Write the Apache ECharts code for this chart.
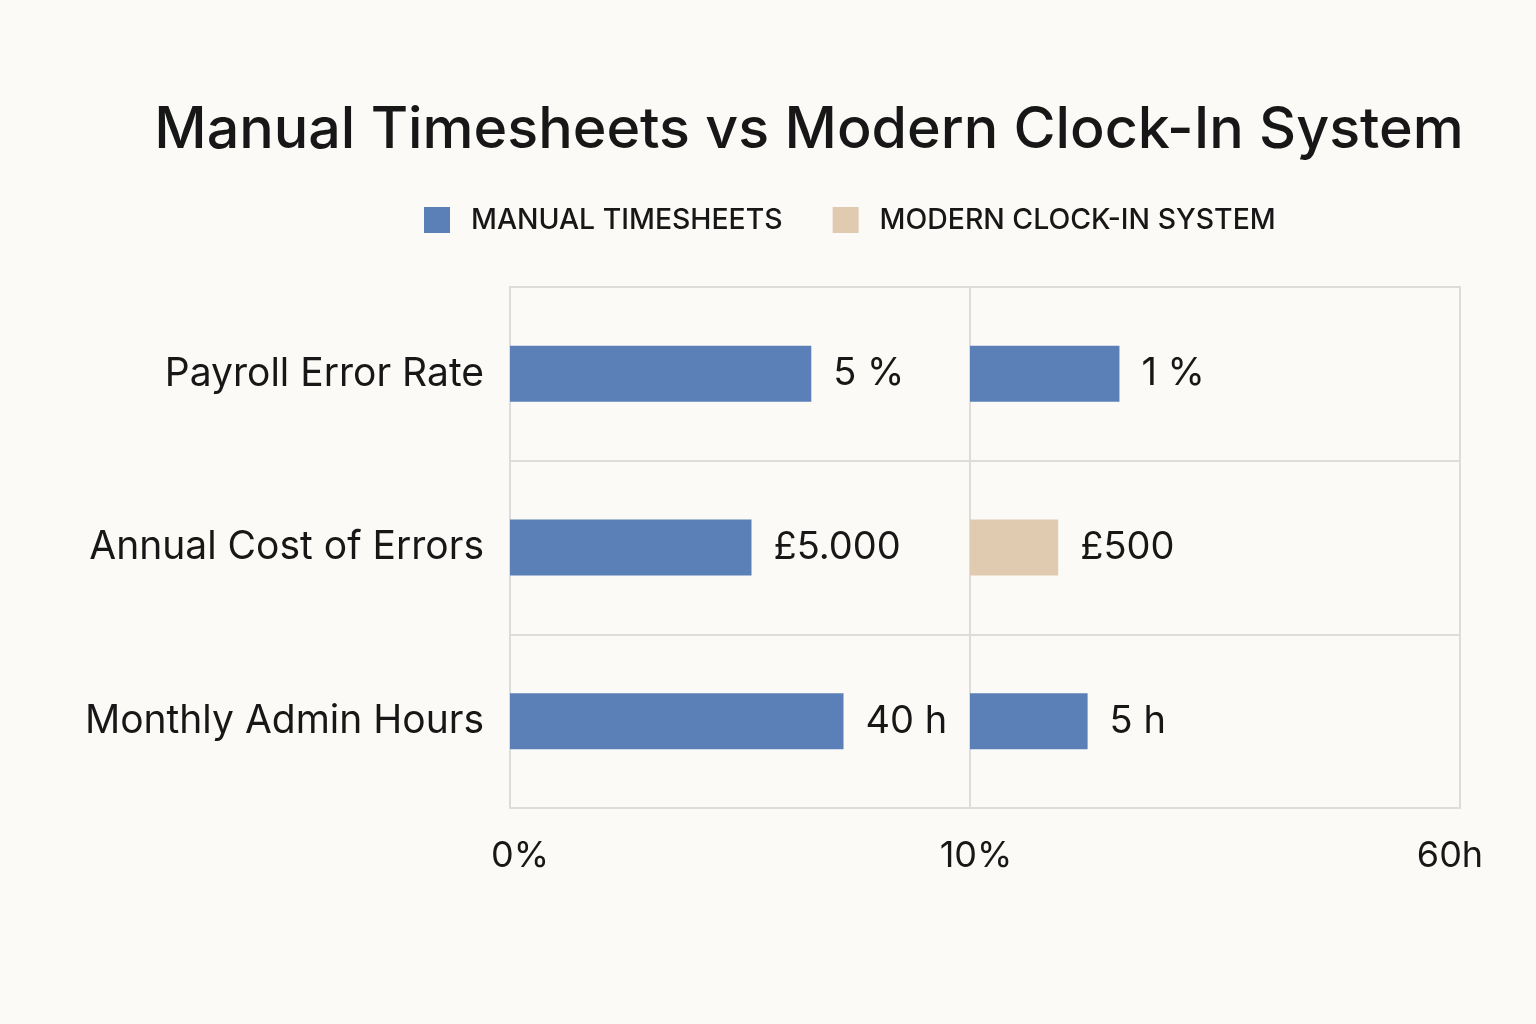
<!DOCTYPE html>
<html>
<head>
<meta charset="utf-8">
<title>Manual Timesheets vs Modern Clock-In System</title>
<script src="https://cdn.jsdelivr.net/npm/echarts@6/dist/echarts.min.js"></script>
<style>
    html, body { margin: 0; padding: 0; background: #fbfaf6; }
    #chart { width: 1536px; height: 1024px; }
</style>
</head>
<body>
<div id="chart"></div>
<script>
// 数据
const categories = ['Payroll Error Rate', 'Annual Cost of Errors', 'Monthly Admin Hours'];
// bar length as share of each panel (0-100)
const manualBars = [65.5, 52.5, 72.5];
const modernBars = [30.5, 18, 24];
const manualLabels = ['5 %', '£5.000', '40 h'];
const modernLabels = ['1 %', '£500', '5 h'];
// which modern bars use the legend's beige colour
const modernBeige = [false, true, false];
const tickLeft = ['0%'];
const tickRight = ['10%', '60h'];

const BLUE = '#5b7fb7';
const BEIGE = '#e0cbb1';
const GRID = '#dcdcda';
const TEXT = '#171717';
const FONT = 'Inter, "Noto Sans", sans-serif';

const chart = echarts.init(document.getElementById('chart'));

const yBase = {
    type: 'category',
    data: categories,
    inverse: true,
    axisLine: { show: false },
    axisTick: { show: false },
    splitLine: { show: true, lineStyle: { color: GRID, width: 2 } }
};

const xBase = {
    type: 'value',
    min: 0,
    max: 100,
    interval: 100,
    axisLine: { show: false },
    axisTick: { show: false },
    splitLine: { show: false }
};

const valueLabel = (labels) => ({
    show: true,
    position: 'right',
    distance: 22,
    color: TEXT,
    fontFamily: FONT,
    fontSize: 38,
    formatter: p => labels[p.dataIndex]
});

chart.setOption({
    backgroundColor: '#fbfaf6',
    textStyle: { fontFamily: FONT },
    title: {
        text: 'Manual Timesheets vs Modern Clock-In System',
        left: 804,
        top: 97,
        textAlign: 'center',
        textStyle: { fontSize: 57.4, fontWeight: 500, color: TEXT, fontFamily: FONT }
    },
    legend: {
        top: 201,
        left: 419,
        itemWidth: 26,
        itemHeight: 26,
        itemGap: 50,
        icon: 'rect',
        textStyle: { fontSize: 28.4, fontWeight: 500, color: TEXT, fontFamily: FONT, padding: [0, 0, 0, 16] },
        data: [
            { name: 'MANUAL TIMESHEETS', itemStyle: { color: BLUE } },
            { name: 'MODERN CLOCK-IN SYSTEM', itemStyle: { color: BEIGE } }
        ]
    },
    grid: [
        { left: 510, width: 460, top: 287, bottom: 216, show: true, borderColor: GRID, borderWidth: 2 },
        { left: 970, right: 76, top: 287, bottom: 216, show: true, borderColor: GRID, borderWidth: 2 }
    ],
    xAxis: [
        {
            ...xBase, gridIndex: 0,
            axisLabel: {
                fontSize: 36, color: TEXT, margin: 30, padding: [0, 0, 0, 20],
                formatter: v => v === 0 ? tickLeft[0] : ''
            }
        },
        {
            ...xBase, gridIndex: 1,
            axisLabel: {
                color: TEXT, margin: 30,
                formatter: v => v === 0 ? '{a|' + tickRight[0] + '}' : '{b|' + tickRight[1] + '}',
                rich: {
                    a: { fontSize: 36, color: TEXT, fontFamily: FONT, padding: [0, 0, 0, 12] },
                    b: { fontSize: 36, color: TEXT, fontFamily: FONT, padding: [0, 20, 0, 0] }
                }
            }
        }
    ],
    yAxis: [
        {
            ...yBase, gridIndex: 0,
            axisLabel: { fontSize: 39, color: TEXT, margin: 26, fontFamily: FONT }
        },
        { ...yBase, gridIndex: 1, axisLabel: { show: false } }
    ],
    series: [
        {
            name: 'MANUAL TIMESHEETS',
            type: 'bar',
            xAxisIndex: 0,
            yAxisIndex: 0,
            data: manualBars,
            barWidth: 56,
            itemStyle: { color: BLUE },
            label: valueLabel(manualLabels)
        },
        {
            name: 'MODERN CLOCK-IN SYSTEM',
            type: 'bar',
            xAxisIndex: 1,
            yAxisIndex: 1,
            data: modernBars,
            barWidth: 56,
            itemStyle: { color: p => modernBeige[p.dataIndex] ? BEIGE : BLUE },
            label: valueLabel(modernLabels)
        }
    ]
});
</script>
</body>
</html>
